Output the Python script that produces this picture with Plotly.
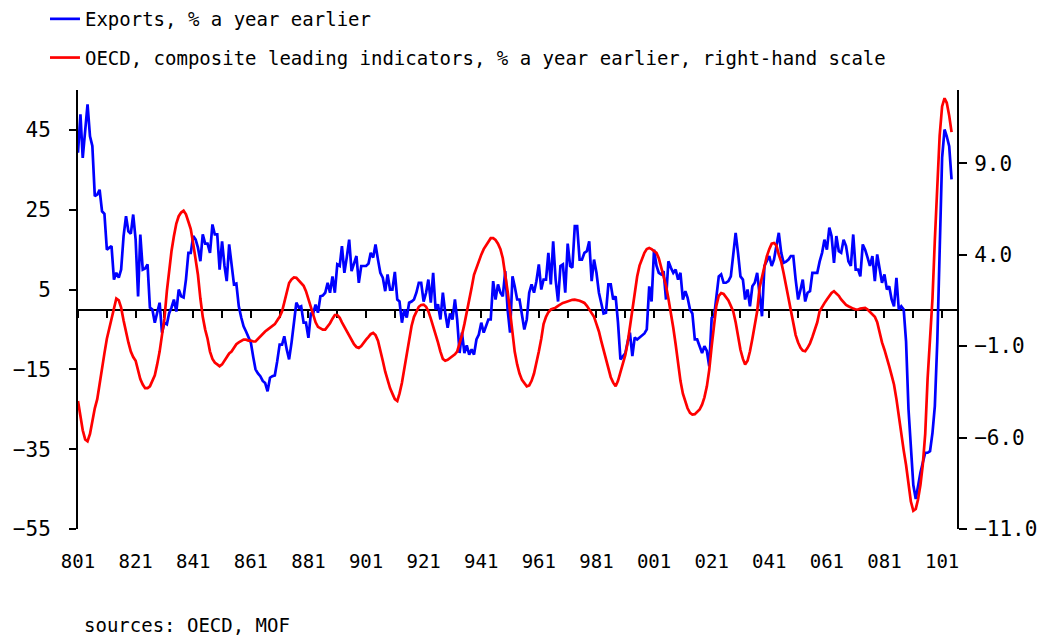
import pandas as pd
import plotly.graph_objects as go

# ---- data (monthly, Jan 1980 - May 2010) ----
start_month = "1980-01-01"
n_months = 365

exports_pct = [
    # 1980
    39.3, 48.9, 38.0, 45.0, 51.4, 43.4, 41.0, 28.4, 28.8, 30.0, 24.6, 24.0,
    # 1981
    15.0, 15.5, 15.9, 7.5, 9.2, 8.0, 10.0, 18.4, 23.4, 19.6, 19.0, 23.8,
    # 1982
    17.5, 3.3, 18.8, 10.0, 10.3, 11.3, 0.5, 0.0, -3.3, -0.8, 1.7, -5.8,
    # 1983
    -3.3, -3.7, -1.0, 0.5, 2.5, -0.5, 5.0, 3.3, 3.0, 7.5, 14.2, 14.2,
    # 1984
    18.4, 17.5, 15.5, 12.1, 18.8, 16.5, 16.5, 14.2, 21.3, 18.8, 18.8, 10.0,
    # 1985
    17.1, 10.9, 7.1, 16.3, 11.0, 6.3, 6.5, 0.8, -2.0, -4.2, -5.5, -6.7,
    # 1986
    -8.3, -12.0, -15.0, -16.0, -16.7, -17.9, -18.4, -20.5, -17.1, -16.7, -16.5, -13.0,
    # 1987
    -8.8, -8.8, -6.7, -10.0, -12.5, -8.3, -2.5, 1.7, 0.5, 0.8, -3.3, -3.3,
    # 1988
    -7.1, -1.0, -1.0, 1.25, -0.8, 3.3, 3.5, 4.2, 6.7, 4.2, 8.3, 4.2,
    # 1989
    11.3, 10.9, 15.9, 9.2, 13.0, 17.5, 9.6, 11.5, 13.4, 6.7, 10.9, 10.9,
    # 1990
    10.9, 11.5, 14.2, 13.0, 16.3, 12.5, 9.2, 8.0, 4.6, 8.8, 5.0, 5.0,
    # 1991
    9.4, 2.5, 2.0, -3.3, 0.0, -2.0, 1.7, 2.0, 2.5, 4.2, 6.7, 6.7,
    # 1992
    2.0, 4.2, 7.5, 1.7, 9.2, 0.0, 1.3, -2.5, 4.2, -0.8, -4.6, -1.0,
    # 1993
    -2.5, 2.5, -2.5, -10.9, -5.8, -10.9, -9.0, -11.3, -10.0, -11.3, -7.5, -6.3,
    # 1994
    -3.3, -5.8, -4.2, -2.5, -2.5, 7.1, 2.5, 6.3, 4.2, 3.3, 9.6, 0.0,
    # 1995
    -5.8, 8.3, 5.8, 2.5, 2.5, -0.8, -5.0, -2.5, 4.2, 6.3, 4.2, 7.1,
    # 1996
    11.3, 5.0, 7.5, 7.5, 14.2, 6.3, 17.1, 7.5, 2.0, 10.9, 11.3, 4.2,
    # 1997
    16.5, 10.9, 10.5, 20.9, 20.9, 12.5, 12.5, 14.2, 14.6, 17.1, 7.1, 12.5,
    # 1998
    9.2, 4.2, 1.7, -1.0, -0.8, 6.3, 6.3, 2.5, 3.3, -3.3, -12.5, -11.7,
    # 1999
    -11.0, -8.0, -5.8, -11.7, -7.0, -7.5, -7.0, -6.7, -6.0, -5.0, 5.8, 2.0,
    # 2000
    15.0, 11.0, 9.2, 8.8, 9.6, 2.5, 12.1, 10.5, 9.2, 10.0, 7.5, 9.2,
    # 2001
    2.5, 4.6, 3.0, 0.0, -1.0, -7.5, -7.5, -9.2, -10.9, -9.2, -10.4, -14.2,
    # 2002
    -2.1, -1.7, 3.8, 8.3, 8.8, 6.7, 6.7, 7.1, 8.3, 14.2, 19.2, 14.2,
    # 2003
    8.3, 7.5, 2.5, 5.0, 0.8, 5.8, 6.7, 9.2, 4.2, -1.7, 10.9, 12.1,
    # 2004
    13.4, 10.9, 12.5, 16.0, 19.2, 14.2, 11.7, 12.0, 12.5, 13.4, 13.4, 7.5,
    # 2005
    2.5, 5.0, 7.5, 2.0, 4.2, 4.6, 9.2, 9.2, 9.2, 12.0, 14.2, 17.5,
    # 2006
    15.0, 20.5, 18.4, 11.7, 18.4, 14.6, 14.2, 17.5, 15.9, 12.1, 10.9, 18.8,
    # 2007
    10.0, 10.0, 8.3, 16.3, 15.0, 13.0, 10.9, 13.4, 7.1, 13.8, 10.0, 6.7,
    # 2008
    8.8, 5.0, 5.8, 2.5, 0.8, 7.9, 0.0, 0.8, 0.0, -8.0, -25.0, -35.0,
    # 2009
    -44.0, -47.5, -44.0, -40.9, -38.4, -35.9, -35.9, -35.5, -30.9, -24.2, -8.0, 14.0,
    # 2010
    38.0, 45.1, 43.4, 40.9, 32.6,
]

cli_pct = [
    # 1980
    -4.0, -4.8, -5.6, -6.1, -6.2, -5.8, -5.0, -4.4, -3.9, -3.0, -2.1, -1.4,
    # 1981
    -0.6, 0.0, 0.6, 1.2, 1.6, 1.5, 1.1, 0.4, -0.3, -0.8, -1.3, -1.6,
    # 1982
    -1.8, -2.3, -2.8, -3.1, -3.3, -3.3, -3.2, -2.9, -2.6, -2.0, -1.3, -0.4,
    # 1983
    0.5, 2.0, 3.2, 4.2, 5.0, 5.7, 6.1, 6.3, 6.4, 6.2, 5.8, 5.4,
    # 1984
    4.6, 3.8, 2.9, 1.6, 0.6, -0.1, -0.6, -1.3, -1.7, -1.9, -2.0, -2.1,
    # 1985
    -2.0, -1.8, -1.6, -1.4, -1.3, -1.1, -0.9, -0.8, -0.7, -0.65, -0.65, -0.7,
    # 1986
    -0.7, -0.75, -0.75, -0.6, -0.45, -0.3, -0.2, -0.1, 0.0, 0.1, 0.2, 0.4,
    # 1987
    0.6, 0.9, 1.4, 2.0, 2.45, 2.65, 2.75, 2.73, 2.6, 2.45, 2.3, 2.0,
    # 1988
    1.6, 1.2, 0.7, 0.3, 0.05, -0.05, -0.1, -0.1, 0.05, 0.25, 0.5, 0.7,
    # 1989
    0.7, 0.55, 0.3, 0.05, -0.2, -0.45, -0.7, -0.9, -1.05, -1.1, -1.0, -0.8,
    # 1990
    -0.65, -0.5, -0.35, -0.28, -0.4, -0.7, -1.2, -1.8, -2.4, -2.9, -3.3, -3.6,
    # 1991
    -3.9, -4.0, -3.6, -3.0, -2.2, -1.4, -0.6, 0.1, 0.6, 0.9, 1.15, 1.25,
    # 1992
    1.27, 1.15, 0.9, 0.5, 0.1, -0.3, -0.8, -1.3, -1.7, -1.8, -1.75, -1.65,
    # 1993
    -1.55, -1.45, -1.3, -0.9, -0.4, 0.2, 0.8, 1.4, 2.2, 2.9, 3.3, 3.7,
    # 1994
    4.0, 4.3, 4.5, 4.7, 4.9, 4.9, 4.8, 4.6, 4.3, 3.8, 3.0, 2.0,
    # 1995
    0.9, -0.3, -1.3, -2.0, -2.5, -2.85, -3.05, -3.2, -3.15, -2.9, -2.5, -1.8,
    # 1996
    -1.3, -0.6, 0.2, 0.6, 0.85, 1.0, 1.05, 1.1, 1.2, 1.3, 1.36, 1.4,
    # 1997
    1.45, 1.5, 1.53, 1.54, 1.52, 1.48, 1.42, 1.36, 1.2, 1.0, 0.8, 0.6,
    # 1998
    0.2, -0.2, -0.7, -1.2, -1.65, -2.2, -2.7, -3.0, -3.2, -2.9, -2.4, -1.9,
    # 1999
    -1.5, -0.8, 0.1, 1.0, 2.0, 2.8, 3.4, 3.8, 4.1, 4.3, 4.36, 4.3,
    # 2000
    4.2, 4.1, 3.8, 3.3, 2.9, 2.3, 1.6, 0.9, 0.0, -0.9, -2.0, -2.9,
    # 2001
    -3.6, -4.1, -4.4, -4.65, -4.74, -4.72, -4.6, -4.47, -4.2, -3.8, -3.2, -2.3,
    # 2002
    -1.0, 0.2, 1.2, 1.75, 1.9, 1.85, 1.7, 1.5, 1.2, 0.9, 0.3, -0.5,
    # 2003
    -1.2, -1.7, -2.0, -1.8, -1.3, -0.6, 0.2, 0.9, 2.2, 2.8, 3.4, 3.9,
    # 2004
    4.3, 4.6, 4.64, 4.5, 4.0, 3.6, 3.0, 2.3, 1.6, 0.9, 0.1, -0.4,
    # 2005
    -0.8, -1.1, -1.25, -1.28, -1.1, -0.85, -0.5, -0.1, 0.3, 0.9, 1.15, 1.35,
    # 2006
    1.55, 1.75, 1.9, 2.0, 1.9, 1.75, 1.55, 1.4, 1.25, 1.18, 1.1, 1.05,
    # 2007
    1.0, 1.0, 1.05, 1.08, 1.09, 1.0, 0.85, 0.75, 0.6, 0.3, -0.3, -0.8,
    # 2008
    -1.2, -1.6, -2.1, -2.6, -3.1, -3.9, -4.9, -5.8, -6.7, -7.5, -8.6, -9.5,
    # 2009
    -10.0, -9.9, -9.4, -8.6, -7.5, -5.8, -2.8, -0.5, 1.6, 4.8, 8.1, 10.5,
    # 2010
    12.1, 12.55, 12.3, 11.6, 10.7,
]

left_ticks = [-55, -35, -15, 5, 25, 45]
right_ticks = [-11, -6, -1, 4, 9]
left_range = [-55, 55]
right_range = [-11, 13]
x_range = ["1980-01-01", "2010-07-09"]

series_names = [
    "Exports, % a year earlier",
    "OECD, composite leading indicators, % a year earlier, right-hand scale",
]
source_text = "sources: OECD, MOF"

dates = pd.date_range(start_month, periods=n_months, freq="MS")

FONT = "DejaVu Sans Mono"

fig = go.Figure()
fig.add_trace(go.Scatter(
    x=dates, y=exports_pct, name=series_names[0], mode="lines",
    line=dict(color="#0000FF", width=2.7), xaxis="x", yaxis="y",
    legendgroup="a",
))
fig.add_trace(go.Scatter(
    x=dates, y=cli_pct, name=series_names[1], mode="lines",
    line=dict(color="#FF0000", width=2.7), xaxis="x2", yaxis="y2",
    legendgroup="b",
))

axis_common = dict(showgrid=False, zeroline=False, automargin=False)

fig.update_layout(
    width=1041, height=636,
    margin=dict(l=78, r=84, t=90, b=107, autoexpand=False),
    paper_bgcolor="white", plot_bgcolor="white",
    font=dict(family=FONT, color="black", size=19),
    showlegend=True,
    legend=dict(
        xref="container", yref="container",
        x=0.0432, y=1.0, xanchor="left", yanchor="top",
        orientation="v", bgcolor="rgba(0,0,0,0)", borderwidth=0,
        font=dict(family=FONT, size=19, color="black"),
        tracegroupgap=11,
    ),
    xaxis=dict(
        type="date", range=x_range, anchor="y",
        showline=False, ticks="",
        tick0=start_month, dtick="M24", tickformat="%y%-m",
        tickfont=dict(family=FONT, size=19),
        ticklabelstandoff=19,
        **axis_common,
    ),
    xaxis2=dict(
        type="date", range=x_range, overlaying="x", anchor="free", position=0.5,
        showline=True, linecolor="black", linewidth=2,
        ticks="outside", ticklen=7, tickwidth=2, tickcolor="black",
        tick0=start_month, dtick="M12", showticklabels=False,
        layer="below traces",
        **axis_common,
    ),
    yaxis=dict(
        range=left_range, tickvals=left_ticks, anchor="x",
        showline=True, linecolor="black", linewidth=2,
        ticks="outside", ticklen=7, tickwidth=2, tickcolor="black",
        tickfont=dict(family=FONT, size=21),
        ticklabelstandoff=14,
        **axis_common,
    ),
    yaxis2=dict(
        range=right_range, tickvals=right_ticks, tickformat=".1f",
        overlaying="y", side="right", anchor="x",
        showline=True, linecolor="black", linewidth=2,
        ticks="outside", ticklen=8, tickwidth=2, tickcolor="black",
        tickfont=dict(family=FONT, size=21),
        ticklabelstandoff=3,
        **axis_common,
    ),
    annotations=[dict(
        text=source_text, xref="paper", yref="paper",
        x=0.0046, y=-0.2187, xanchor="left", yanchor="middle",
        showarrow=False, font=dict(family=FONT, size=19, color="black"),
    )],
)

fig.write_html(
    "out.html",
    config={"displayModeBar": False},
    post_script="document.body.style.margin='0px';document.body.style.overflow='hidden';",
)
